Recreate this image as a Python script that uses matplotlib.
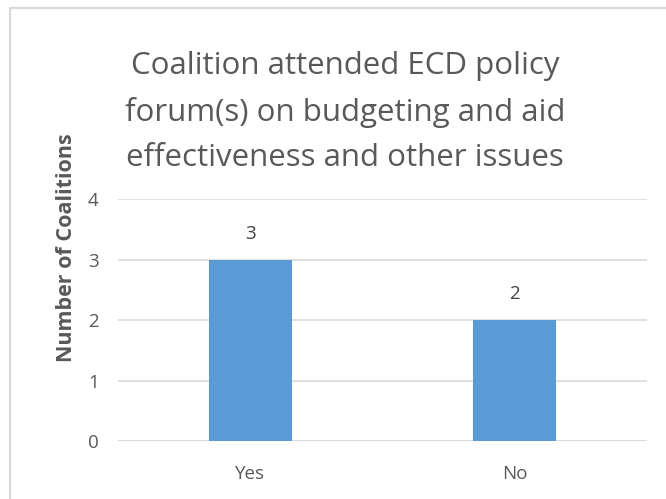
import matplotlib.pyplot as plt
from matplotlib.lines import Line2D

categories = ["Yes", "No"]
counts = [3, 2]
y_ticks = [0, 1, 2, 3, 4]

title = "Coalition attended ECD policy\nforum(s) on budgeting and aid\neffectiveness and other issues"
ylabel = "Number of Coalitions"

plt.rcParams["font.family"] = ["Open Sans", "DejaVu Sans"]
text_col = "#595959"
bar_col = "#5b9bd5"
grid_col = "#d9d9d9"

W, H = 666, 499
fig = plt.figure(figsize=(W / 100, H / 100), dpi=100)

# plot area in pixel terms
left, right, top, bottom = 118, 647, 199, 441
ax = fig.add_axes([left / W, 1 - bottom / H, (right - left) / W, (bottom - top) / H])

x = range(len(categories))
bars = ax.bar(x, counts, width=0.315, color=bar_col, zorder=3)
ax.set_xlim(-0.5, len(categories) - 0.5)
ax.set_ylim(0, 4)
ax.set_yticks(y_ticks)
ax.set_xticks(list(x))
ax.set_xticklabels(categories)
ax.yaxis.grid(True, color=grid_col, linewidth=1.2, zorder=0)
for s in ax.spines.values():
    s.set_visible(False)
ax.axhline(0, color=grid_col, linewidth=1.2, zorder=1)
ax.tick_params(length=0, labelsize=13.5, colors=text_col, pad=14)
ax.tick_params(axis="x", pad=17)

for b, v in zip(bars, counts):
    ax.annotate(str(v), (b.get_x() + b.get_width() / 2, v), xytext=(0, 12),
                textcoords="offset points", ha="center", va="bottom",
                fontsize=13.5, color="#404040")

fig.text(345 / W, 1 - 112 / H, title, ha="center", va="center",
         fontsize=22.5, color=text_col, linespacing=1.68)
fig.text(66 / W, 1 - 248 / H, ylabel, ha="center", va="center", rotation=90,
         fontsize=15.5, fontweight="bold", color=text_col)

# chart frame
fig.add_artist(Line2D([10 / W, 10 / W], [0, 1 - 8 / H], color=grid_col, linewidth=1.5))
fig.add_artist(Line2D([10 / W, 1], [1 - 8 / H, 1 - 8 / H], color=grid_col, linewidth=1.5))

fig.savefig("out.png", dpi=100)
